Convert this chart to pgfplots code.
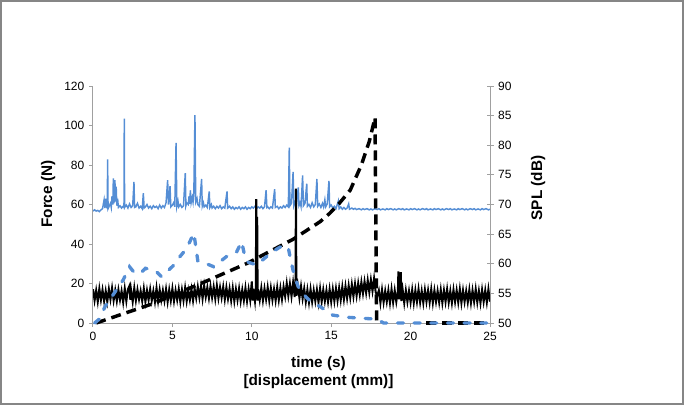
\documentclass[border=0pt]{standalone}
\usepackage{fontspec}
\setmainfont{Liberation Sans}
\usepackage{pgfplots}
\pgfplotsset{compat=1.18}
\definecolor{xlblue}{RGB}{85,142,213}
\definecolor{axgray}{RGB}{160,160,160}
\definecolor{framegray}{RGB}{134,134,134}

\begin{document}
\begin{tikzpicture}
\path[use as bounding box] (-69.75pt,-61.5pt) rectangle (443.25pt,242.25pt);
\draw[framegray, line width=1.5pt] (-69pt,-60.75pt) rectangle (442.5pt,241.5pt);
\pgfplotsset{
  common/.style={
    at={(0pt,0pt)}, anchor=south west,
    scale only axis, width=297.75pt, height=177.75pt,
    xmin=0, xmax=25,
    axis line style={axgray, line width=0.75pt},
    tick style={axgray, line width=0.75pt},
    ticklabel style={font=\fontsize{9}{10}\selectfont, text=black},
    label style={font=\fontsize{11.5}{14}\selectfont\bfseries},
    /pgf/number format/assume math mode=true,
  }
}
% ---------- SPL axis (right) with the noisy SPL traces ----------
\begin{axis}[common,
  axis x line=none,
  axis y line*=right,
  ymin=50, ymax=90,
  ytick={50,55,60,65,70,75,80,85,90},
  tick align=center,
  major tick length=5.25pt,
  ylabel={SPL (dB)},
  ylabel style={at={(axis description cs:1.121,0.57)}, anchor=center, rotate=0},
]
\addplot[xlblue, line width=1.1pt] coordinates {
(0.0,68.9) (0.1,69.1) (0.2,68.9) (0.3,69.0) (0.4,68.8) (0.5,69.1) (0.6,69.3) (0.7,70.8) (0.75,69.4) (0.8,71.0) (0.85,69.6) (0.9,69.4)
(0.92,77.6) (0.95,69.3) (1.0,69.6) (1.1,70.2) (1.15,69.5) (1.2,71.4) (1.25,70.0) (1.28,74.4) (1.32,70.2) (1.38,74.1) (1.42,70.5) (1.46,73.0)
(1.5,69.8) (1.55,71.0) (1.6,69.5) (1.7,69.8) (1.8,69.4) (1.9,69.7) (1.95,69.5) (1.97,84.5) (1.99,69.5) (2.1,69.9) (2.2,69.4) (2.3,70.1)
(2.4,69.5) (2.5,69.8) (2.58,73.8) (2.62,69.5) (2.7,69.6) (2.8,70.2) (2.9,69.4) (3.0,69.7) (3.1,69.3) (3.17,71.9) (3.22,69.4) (3.3,69.6)
(3.4,70.0) (3.5,69.4) (3.6,69.7) (3.7,69.3) (3.8,69.8) (3.9,69.5) (4.0,69.7) (4.1,69.3) (4.2,69.9) (4.3,69.4) (4.4,69.8) (4.5,69.5)
(4.6,70.3) (4.7,74.1) (4.75,70.0) (4.8,71.0) (4.85,73.1) (4.9,69.6) (5.0,69.9) (5.1,70.4) (5.15,69.6) (5.23,80.4) (5.28,69.7) (5.35,70.6)
(5.4,69.6) (5.5,70.0) (5.6,69.5) (5.7,69.8) (5.81,75.3) (5.85,69.8) (5.9,70.3) (6.0,70.0) (6.05,71.4) (6.1,70.1) (6.13,72.4) (6.18,70.3)
(6.25,71.2) (6.3,70.4) (6.35,72.0) (6.42,85.1) (6.47,70.4) (6.55,71.0) (6.6,70.0) (6.7,69.7) (6.84,74.3) (6.88,69.7) (6.95,70.3) (7.0,69.6)
(7.1,69.9) (7.2,69.5) (7.32,72.2) (7.36,69.5) (7.45,70.0) (7.5,69.4) (7.6,69.7) (7.7,69.3) (7.8,69.7) (7.9,69.4) (8.0,69.8) (8.1,69.3)
(8.2,69.6) (8.3,69.4) (8.44,72.2) (8.48,69.4) (8.6,69.7) (8.7,69.3) (8.8,69.6) (8.9,69.2) (9.0,69.5) (9.1,69.3) (9.2,69.6) (9.3,69.2)
(9.4,69.5) (9.5,69.3) (9.6,69.6) (9.7,69.2) (9.8,69.5) (9.9,69.3) (10.0,69.6) (10.1,69.4) (10.2,69.7) (10.3,69.3) (10.4,69.6) (10.5,69.4)
(10.6,69.7) (10.7,69.3) (10.8,69.6) (10.9,72.4) (10.95,69.5) (11.0,69.6) (11.1,69.3) (11.2,69.6) (11.3,69.4) (11.44,72.6) (11.48,69.5) (11.6,69.7)
(11.7,69.3) (11.8,69.6) (11.9,69.4) (12.0,69.8) (12.1,69.5) (12.2,69.9) (12.3,69.6) (12.36,79.6) (12.4,69.8) (12.5,70.2) (12.6,75.5) (12.65,69.8)
(12.75,70.6) (12.8,69.7) (12.93,72.9) (12.97,69.8) (13.05,70.3) (13.1,69.7) (13.2,74.9) (13.25,69.8) (13.35,70.2) (13.46,73.5) (13.5,69.7) (13.6,70.0)
(13.7,69.5) (13.8,70.3) (13.9,69.6) (14.0,70.0) (14.1,74.3) (14.15,69.7) (14.25,70.1) (14.35,69.5) (14.45,70.2) (14.52,69.6) (14.6,70.8) (14.65,69.6)
(14.75,70.1) (14.86,74.0) (14.9,69.6) (15.0,69.9) (15.1,69.4) (15.2,69.7) (15.3,69.3) (15.45,70.6) (15.5,69.3) (15.6,69.6) (15.7,69.2) (15.8,69.5)
(15.9,69.2) (16.0,69.4) (16.1,70.1) (16.15,69.2) (16.3,69.4) (16.4,69.2) (16.5,69.35) (16.6,69.15) (16.75,69.3) (16.9,69.1) (17.0,69.3) (17.1,69.15)
(17.25,69.3) (17.4,69.1) (17.5,69.25) (17.6,69.1) (17.75,69.3) (17.9,69.15) (18.0,69.3) (18.1,69.1)
(18.25,69.25) (18.4,69.1) (18.5,69.3) (18.6,69.15) (18.75,69.3) (18.9,69.1) (19.0,69.25) (19.1,69.1) (19.25,69.3) (19.4,69.15) (19.5,69.3) (19.6,69.1)
(19.75,69.25) (19.9,69.1) (20.0,69.3) (20.1,69.15) (20.25,69.3) (20.4,69.1) (20.5,69.25) (20.6,69.1) (20.75,69.3) (20.9,69.15) (21.0,69.3) (21.1,69.1)
(21.25,69.25) (21.4,69.1) (21.5,69.3) (21.6,69.15) (21.75,69.3) (21.9,69.1) (22.0,69.25) (22.1,69.1) (22.25,69.3) (22.4,69.15) (22.5,69.3) (22.6,69.1)
(22.75,69.25) (22.9,69.1) (23.0,69.3) (23.1,69.15) (23.25,69.3) (23.4,69.1) (23.5,69.25) (23.6,69.1) (23.75,69.3) (23.9,69.15) (24.0,69.3) (24.1,69.1)
(24.25,69.25) (24.4,69.1) (24.5,69.3) (24.6,69.15) (24.75,69.3) (24.9,69.1) (25.0,69.2)
};
\addplot[black, line width=1.5pt] coordinates {
(0.0,55.7) (0.1,53.8) (0.2,55.5) (0.3,53.6) (0.4,55.8) (0.5,53.9) (0.6,55.6) (0.7,53.7) (0.8,55.4) (0.9,53.6) (1.0,55.7) (1.1,54.0)
(1.2,55.9) (1.3,53.8) (1.4,55.5) (1.5,53.7) (1.6,55.6) (1.7,53.9) (1.8,55.4) (1.9,53.5) (2.0,55.8) (2.1,53.7) (2.2,55.7) (2.3,56.3)
(2.35,53.9) (2.4,55.5) (2.5,53.6) (2.6,55.9) (2.7,53.8) (2.8,55.6) (2.9,54.0) (3.0,55.4) (3.1,53.7) (3.2,55.8) (3.3,53.6) (3.4,55.5)
(3.5,53.9) (3.6,55.7) (3.7,53.8) (3.8,55.4) (3.9,53.6) (4.0,55.9) (4.1,53.7) (4.2,55.6) (4.3,53.9) (4.4,55.5) (4.5,53.8) (4.6,55.7)
(4.7,53.6) (4.8,55.6) (4.9,53.8) (5.0,55.8) (5.1,53.7) (5.2,55.5) (5.3,53.9) (5.4,55.7) (5.5,53.6) (5.6,55.6) (5.7,53.8) (5.8,55.9)
(5.9,53.7) (6.0,55.5) (6.1,53.9) (6.2,55.7) (6.3,53.8) (6.4,55.8) (6.5,54.2) (6.6,56.1) (6.7,54.3) (6.8,56.2) (6.9,54.1) (7.0,56.3)
(7.1,54.4) (7.2,56.0) (7.3,54.2) (7.4,56.2) (7.5,54.3) (7.6,56.1) (7.7,54.1) (7.8,56.3) (7.9,54.2) (8.0,56.0) (8.1,54.3) (8.2,56.1)
(8.3,54.0) (8.4,56.0) (8.5,54.1) (8.6,55.8) (8.7,53.8) (8.8,55.9) (8.9,53.7) (9.0,55.7) (9.1,53.9) (9.2,55.8) (9.3,53.7) (9.4,55.6)
(9.5,53.8) (9.6,55.9) (9.7,53.7) (9.8,55.7) (9.9,53.9) (10.0,57.0) (10.05,53.8) (10.1,55.8) (10.2,53.7) (10.25,55.5) (10.28,70.9) (10.31,54.0)
(10.34,67.9) (10.37,53.8) (10.4,55.7) (10.5,53.9) (10.6,55.9) (10.7,53.8) (10.8,55.8) (10.9,54.0) (11.0,56.0) (11.1,53.8) (11.2,55.9) (11.3,53.9)
(11.4,55.7) (11.5,53.8) (11.6,56.0) (11.7,53.9) (11.8,55.9) (11.9,54.0) (12.0,56.1) (12.1,54.5) (12.2,56.7) (12.3,54.6) (12.4,56.6) (12.5,54.5)
(12.6,56.8) (12.7,54.4) (12.75,56.5) (12.78,72.7) (12.81,54.6) (12.9,56.3) (13.0,54.2) (13.1,56.2) (13.2,54.1) (13.3,55.8) (13.4,53.6) (13.5,55.6)
(13.6,53.5) (13.7,55.7) (13.8,53.6) (13.9,55.5) (14.0,53.7) (14.1,55.6) (14.2,53.5) (14.3,55.8) (14.4,53.6) (14.5,55.6) (14.6,53.7) (14.7,55.5)
(14.8,53.6) (14.9,55.7) (15.0,53.6) (15.1,55.7) (15.2,53.7) (15.3,55.8) (15.4,53.8) (15.5,55.9) (15.6,53.9) (15.7,56.1) (15.8,54.0) (15.9,56.2)
(16.0,54.2) (16.1,56.3) (16.2,54.3) (16.3,56.5) (16.4,54.5) (16.5,56.6) (16.6,54.6) (16.7,56.7) (16.8,54.8) (16.9,56.9) (17.0,55.0) (17.1,57.0)
(17.2,55.1) (17.3,57.2) (17.4,55.2) (17.5,57.3) (17.6,55.4) (17.7,57.5) (17.8,55.2) (17.9,54.6) (18.0,55.5) (18.1,53.4) (18.2,55.6) (18.3,53.5)
(18.4,55.4) (18.5,53.6) (18.6,55.5) (18.7,53.4) (18.8,55.7) (18.9,53.5) (19.0,55.5) (19.1,53.6) (19.2,55.4) (19.23,58.7) (19.28,54.0) (19.33,55.2)
(19.38,58.6) (19.42,53.7) (19.5,55.6) (19.6,53.4) (19.7,55.5) (19.8,53.6) (19.9,55.4) (20.0,53.5) (20.1,55.6) (20.2,53.4) (20.3,55.5) (20.4,53.6)
(20.5,55.7) (20.6,53.5) (20.7,55.4) (20.8,53.4) (20.9,55.6) (21.0,53.6) (21.1,55.5) (21.2,53.5) (21.3,55.7) (21.4,53.4) (21.5,55.5) (21.6,53.6)
(21.7,55.4) (21.8,53.5) (21.9,55.6) (22.0,53.4) (22.1,55.5) (22.2,53.6) (22.3,55.7) (22.4,53.5) (22.5,55.4) (22.6,53.4) (22.7,55.6) (22.8,53.6)
(22.9,55.5) (23.0,53.5) (23.1,55.7) (23.2,53.4) (23.3,55.5) (23.4,53.6) (23.5,55.4) (23.6,53.5) (23.7,55.6) (23.8,53.4) (23.9,55.5) (24.0,53.6)
(24.1,55.7) (24.2,53.5) (24.3,55.4) (24.4,53.4) (24.5,55.6) (24.6,53.6) (24.7,55.5) (24.8,53.5) (24.9,55.7) (25.0,53.6)
};
\end{axis}
% ---------- Force axis (left) with the dashed force traces ----------
\begin{axis}[common,
  axis x line*=bottom,
  axis y line*=left,
  ymin=0, ymax=120,
  ytick={0,20,40,60,80,100,120},
  xtick={0,5,10,15,20,25},
  tick align=outside,
  major tick length=3pt,
  clip=false,
  ylabel={Force (N)},
  ylabel style={at={(axis description cs:-0.113,0.544)}, anchor=center},
  xlabel={time (s)\\{[}displacement (mm){]}},
  xlabel style={at={(axis description cs:0.568,-0.209)}, anchor=center, align=center},
]
\addplot[black, line width=2.6pt, dash pattern=on 7.5pt off 4.5pt] coordinates {
(0.2,0) (3.7,9.6) (7.05,20.9) (9.7,30.2) (12.6,42.4) (14.3,51.3) (14.9,55.5) (15.5,60.5) (16.2,67.3)
(16.9,80) (17.4,92) (17.76,104) (17.86,1)
};
\addplot[black, line width=2.6pt, dash pattern=on 7.5pt off 4.5pt] coordinates {
(21,0) (25,0)
};
\addplot[xlblue, line width=2.5pt, line cap=round, dash pattern=on 4.5pt off 8pt] coordinates {
(0.1,0) (0.4,2) (0.76,8.3) (1.4,15.9) (1.9,21.8) (2.3,28.5) (2.6,25.5) (3.0,25.2) (3.3,27.7) (3.7,26.8)
(4.0,26) (4.3,23.5) (4.6,25.5) (5.1,29.4) (5.3,31.9) (5.9,37.8) (6.35,45.5) (6.45,40) (6.6,31.5) (7.0,30.5)
(7.6,28.5) (8.4,33.6) (9.05,36.1) (9.36,41.2) (9.5,36) (9.7,31) (10.3,29.4) (11.3,36.1) (12.0,39.5) (12.3,38)
(12.5,30) (12.7,23.4) (13.0,16.7) (13.7,10.8) (14.3,8.3) (15.1,4.0) (16.0,2.9) (17.0,2.4) (17.9,1.9) (18.3,0) (25,0)
};
\end{axis}
\end{tikzpicture}
\end{document}
